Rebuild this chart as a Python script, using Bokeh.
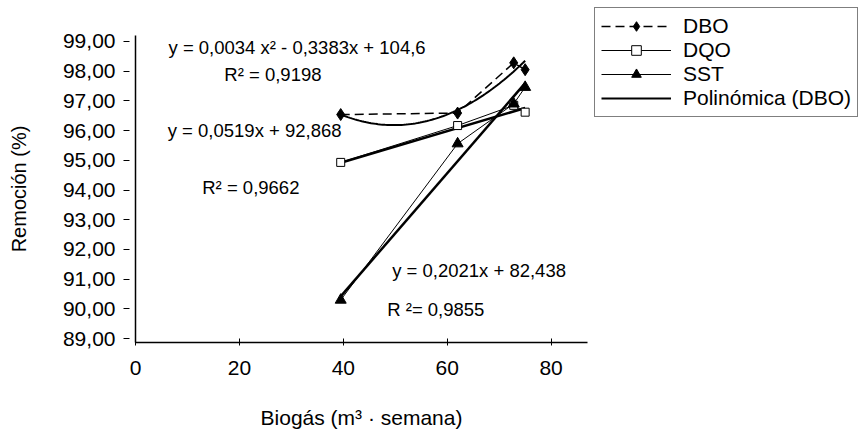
import numpy as np
from bokeh.plotting import figure
from bokeh.models import Range1d, Legend, LegendItem, Label, FixedTicker, CustomJSTickFormatter
from bokeh.embed import file_html
from bokeh.resources import INLINE

# ---- data ----
biogas = [39.5, 62.0, 72.8, 75.0]
dbo = [96.54, 96.59, 98.28, 98.05]
dqo = [94.93, 96.17, 96.85, 96.62]
sst = [90.30, 95.56, 96.90, 97.46]

# trend-line coefficients as printed on the chart
poly_dbo = [0.0034, -0.3383, 104.6]
lin_dqo = [0.0519, 92.868]
lin_sst = [0.2021, 82.438]

eq_dbo = "y = 0,0034 x² - 0,3383x + 104,6"
r2_dbo = "R²  = 0,9198"
eq_dqo = "y = 0,0519x + 92,868"
r2_dqo = "R² = 0,9662"
eq_sst = "y = 0,2021x + 82,438"
r2_sst = "R ²= 0,9855"

x_ticks = [0, 20, 40, 60, 80]
y_ticks = [89, 90, 91, 92, 93, 94, 95, 96, 97, 98, 99]

FONT = "Liberation Sans"

p = figure(frame_width=452, frame_height=307,
           min_border_left=135, min_border_right=276, min_border_top=35, min_border_bottom=89,
           x_range=Range1d(0, 87), y_range=Range1d(88.87, 99.2),
           output_backend="svg", toolbar_location=None)
p.outline_line_color = None
p.xgrid.visible = False
p.ygrid.visible = False
p.background_fill_color = "white"
p.border_fill_color = "white"

# axes
p.xaxis.ticker = FixedTicker(ticks=x_ticks)
p.yaxis.ticker = FixedTicker(ticks=y_ticks)
p.yaxis.formatter = CustomJSTickFormatter(code="return tick.toFixed(2).replace('.', ',');")
p.xaxis.minor_tick_line_color = None
p.yaxis.minor_tick_line_color = None
for ax in (p.xaxis, p.yaxis):
    ax.axis_line_color = "black"
    ax.axis_line_width = 1.5
    ax.major_tick_line_color = "black"
    ax.major_label_text_font = FONT
    ax.major_label_text_font_size = "21px"
    ax.major_label_text_color = "black"
    ax.axis_label_text_font = FONT
    ax.axis_label_text_font_style = "normal"
    ax.axis_label_text_color = "black"
p.xaxis.major_tick_in = 4
p.xaxis.major_tick_out = 3
p.xaxis.major_label_standoff = 15
p.xaxis.axis_label = "Biogás (m³ · semana)"
p.xaxis.axis_label_text_font_size = "21px"
p.xaxis.axis_label_standoff = 28
p.yaxis.major_tick_in = -6
p.yaxis.major_tick_out = 12
p.yaxis.major_label_standoff = 8
p.yaxis.axis_label = "Remoción (%)"
p.yaxis.axis_label_text_font_size = "20px"
p.yaxis.axis_label_standoff = 30

# trend lines
xt = np.linspace(min(biogas), max(biogas), 80)
poly_r = p.line(xt, np.polyval(poly_dbo, xt), line_color="black", line_width=2)
xl = np.array([min(biogas), max(biogas)])
p.line(xl, np.polyval(lin_dqo, xl), line_color="black", line_width=2.5)
p.line(xl, np.polyval(lin_sst, xl), line_color="black", line_width=2.5)

# data series
dbo_l = p.line(biogas, dbo, line_color="black", line_width=1.5, line_dash="9 5")
dbo_m = p.scatter(biogas, dbo, marker="diamond", size=12, fill_color="black", line_color="black")
dqo_l = p.line(biogas, dqo, line_color="black", line_width=1)
dqo_m = p.scatter(biogas, dqo, marker="square", size=8, fill_color="white", line_color="black", line_width=1)
sst_l = p.line(biogas, sst, line_color="black", line_width=1)
sst_m = p.scatter(biogas, sst, marker="triangle", size=11, fill_color="black", line_color="black")

# equations
def lab(x, y, t):
    p.add_layout(Label(x=x, y=y, text=t, text_font=FONT, text_font_size="18.5px",
                       text_baseline="middle", text_color="black"))

lab(6.35, 98.80, eq_dbo)
lab(17.1, 97.89, r2_dbo)
lab(6.2, 95.99, eq_dqo)
lab(12.85, 94.10, r2_dqo)
lab(49.4, 91.29, eq_sst)
lab(48.45, 89.97, r2_sst)

legend = Legend(items=[
    LegendItem(label="DBO", renderers=[dbo_l, dbo_m]),
    LegendItem(label="DQO", renderers=[dqo_l, dqo_m]),
    LegendItem(label="SST", renderers=[sst_l, sst_m]),
    LegendItem(label="Polinómica (DBO)", renderers=[poly_r]),
], location=(7, 225))
legend.label_text_font = FONT
legend.label_text_font_size = "21px"
legend.label_text_color = "black"
legend.glyph_width = 70
legend.glyph_height = 24
legend.label_height = 24
legend.label_standoff = 12
legend.spacing = 0
legend.padding = 6
legend.margin = 0
legend.border_line_color = "black"
legend.border_line_width = 1.5
legend.background_fill_alpha = 1
p.add_layout(legend, "right")

open("out.html", "w").write(file_html(p, INLINE))
